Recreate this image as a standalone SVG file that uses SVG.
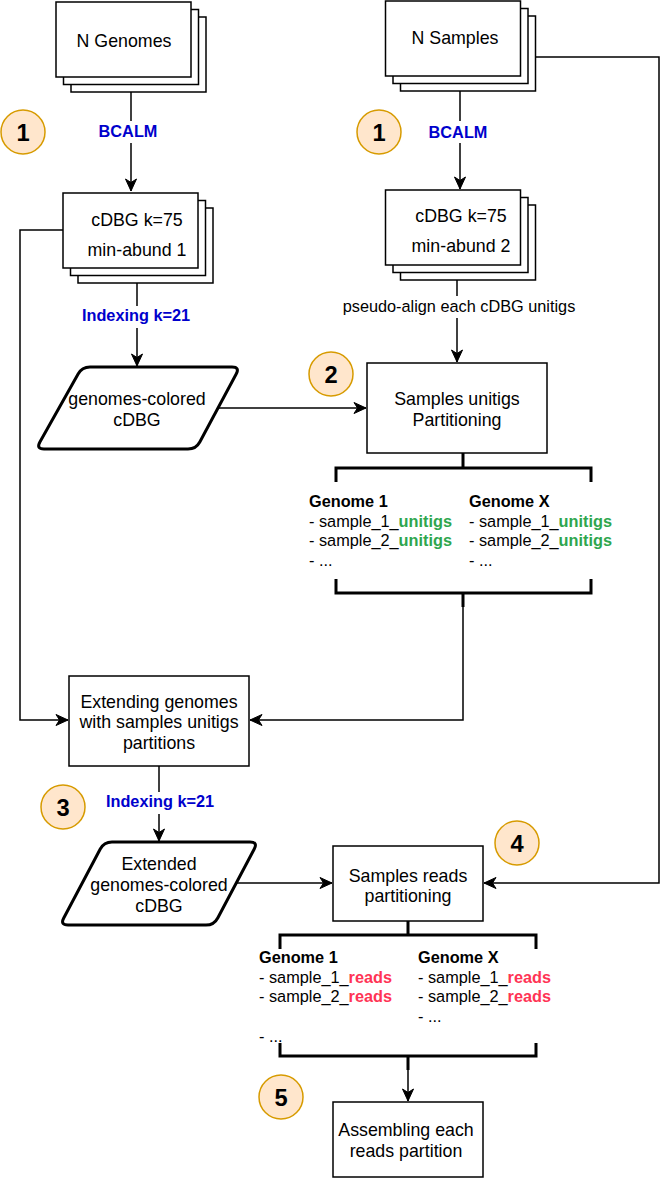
<svg xmlns="http://www.w3.org/2000/svg" width="672" height="1178" viewBox="0 0 672 1178">
<style>
.box{fill:#fff;stroke:#000;stroke-width:1.5}
.para{fill:#fff;stroke:#000;stroke-width:3;stroke-linejoin:round}
.ln{fill:none;stroke:#000;stroke-width:1.5}
.br{fill:none;stroke:#000;stroke-width:3}
.t{font-family:"Liberation Sans",Arial,sans-serif;font-size:17.8px;fill:#000;text-anchor:middle}
.lbl{font-family:"Liberation Sans",Arial,sans-serif;font-size:16.3px;font-weight:bold;fill:#0000CC;text-anchor:middle}
.pl{font-family:"Liberation Sans",Arial,sans-serif;font-size:16.3px;fill:#000;text-anchor:middle}
.lst{font-family:"Liberation Sans",Arial,sans-serif;font-size:16.3px;fill:#000}
.b{font-weight:bold}
.g{font-weight:bold;fill:#2EA64E}
.r{font-weight:bold;fill:#FF3355}
.circ{fill:#ffe6cc;stroke:#d79b00;stroke-width:1.5}
.num{font-family:"Liberation Sans",Arial,sans-serif;font-size:23.7px;font-weight:bold;fill:#000;text-anchor:middle}
.bg{fill:#fff}
</style>
<defs>
<marker id="arr" markerUnits="userSpaceOnUse" markerWidth="14" markerHeight="14" viewBox="0 0 14 14" refX="13" refY="7" orient="auto">
<path d="M1,1.5 L13,7 L1,12.5 L4.5,7 Z" fill="#000" stroke="#000" stroke-width="1"/>
</marker>
</defs>

<g id="connectors">
<path class="ln" d="M131,92 L131,191" marker-end="url(#arr)"/>
<path class="ln" d="M460,91 L460,189" marker-end="url(#arr)"/>
<path class="ln" d="M137,283 L137,366" marker-end="url(#arr)"/>
<path class="ln" d="M457,280 L457,362" marker-end="url(#arr)"/>
<path class="ln" d="M219,408 L366,408" marker-end="url(#arr)"/>
<path class="ln" d="M63,230 L20,230 L20,720 L68,720" marker-end="url(#arr)"/>
<path class="ln" d="M463,607 L463,720 L250,720" marker-end="url(#arr)"/>
<path class="ln" d="M159,766 L159,841" marker-end="url(#arr)"/>
<path class="ln" d="M237,883 L332,883" marker-end="url(#arr)"/>
<path class="ln" d="M536,57 L659,57 L659,883 L484,883" marker-end="url(#arr)"/>
<path class="ln" d="M408,1068 L408,1101" marker-end="url(#arr)"/>
<rect class="bg" x="97" y="121" width="64" height="22"/>
<text class="lbl" x="128" y="137">BCALM</text>
<rect class="bg" x="426" y="121" width="64" height="22"/>
<text class="lbl" x="458" y="138">BCALM</text>
<rect class="bg" x="79" y="306" width="114" height="22"/>
<text class="lbl" x="136" y="321">Indexing k=21</text>
<rect class="bg" x="339" y="296" width="240" height="22"/>
<text class="pl" x="459" y="312">pseudo-align each cDBG unitigs</text>
<rect class="bg" x="103" y="792" width="114" height="22"/>
<text class="lbl" x="160" y="807">Indexing k=21</text>
</g>

<g id="n-genomes">
<rect class="box" x="71" y="17" width="135" height="75"/>
<rect class="box" x="63.5" y="9.5" width="135" height="75"/>
<rect class="box" x="56" y="2" width="135" height="75"/>
<text class="t" x="124" y="47">N Genomes</text>
</g>

<g id="n-samples">
<rect class="box" x="400.5" y="16" width="135" height="75"/>
<rect class="box" x="393" y="8.5" width="135" height="75"/>
<rect class="box" x="385.5" y="1" width="135" height="75"/>
<text class="t" x="455" y="44">N Samples</text>
</g>

<g id="cdbg-genomes">
<rect class="box" x="78" y="208" width="135" height="75"/>
<rect class="box" x="70.5" y="200.5" width="135" height="75"/>
<rect class="box" x="63" y="193" width="135" height="75"/>
<text class="t" x="137" y="226">cDBG k=75</text>
<text class="t" x="137" y="256">min-abund 1</text>
</g>

<g id="cdbg-samples">
<rect class="box" x="400.5" y="205" width="135" height="75"/>
<rect class="box" x="393" y="197.5" width="135" height="75"/>
<rect class="box" x="385.5" y="190" width="135" height="75"/>
<text class="t" x="461" y="222">cDBG k=75</text>
<text class="t" x="461" y="252">min-abund 2</text>
</g>

<g id="genomes-colored">
<path class="para" d="M90,367 L232,367 Q240,367 236.2,374 L199.8,442 Q196,449 188,449 L44,449 Q36,449 39.9,442 L78.1,374 Q82,367 90,367 Z"/>
<text class="t" x="137" y="405">genomes-colored</text>
<text class="t" x="137" y="426">cDBG</text>
</g>

<g id="samples-unitigs-partitioning">
<rect class="box" x="367" y="363" width="180" height="90"/>
<text class="t" x="457" y="405">Samples unitigs</text>
<text class="t" x="457" y="426">Partitioning</text>
</g>

<g id="unitigs-partitions">
<path class="br" d="M463,453 L463,468 M336,482 L336,468 L591,468 L591,482"/>
<path class="br" d="M336,579 L336,593 L591,593 L591,579 M463,593 L463,607"/>
<text class="lst" x="309" y="507"><tspan class="b">Genome 1</tspan></text>
<text class="lst" x="309" y="527">- sample_1_<tspan class="g">unitigs</tspan></text>
<text class="lst" x="309" y="546">- sample_2_<tspan class="g">unitigs</tspan></text>
<text class="lst" x="309" y="566">- ...</text>
<text class="lst" x="469" y="507"><tspan class="b">Genome X</tspan></text>
<text class="lst" x="469" y="527">- sample_1_<tspan class="g">unitigs</tspan></text>
<text class="lst" x="469" y="546">- sample_2_<tspan class="g">unitigs</tspan></text>
<text class="lst" x="469" y="566">- ...</text>
</g>

<g id="extending-genomes">
<rect class="box" x="69" y="676" width="180" height="90"/>
<text class="t" x="159" y="708">Extending genomes</text>
<text class="t" x="159" y="728">with samples unitigs</text>
<text class="t" x="159" y="749">partitions</text>
</g>

<g id="extended-genomes-colored">
<path class="para" d="M112,842 L250,842 Q258,842 254.25,849.07 L217.75,917.93 Q214,925 206,925 L68,925 Q60,925 63.75,917.93 L100.25,849.07 Q104,842 112,842 Z"/>
<text class="t" x="159" y="870">Extended</text>
<text class="t" x="159" y="891">genomes-colored</text>
<text class="t" x="159" y="912">cDBG</text>
</g>

<g id="samples-reads-partitioning">
<rect class="box" x="333" y="846" width="150" height="75"/>
<text class="t" x="408" y="882">Samples reads</text>
<text class="t" x="408" y="902">partitioning</text>
</g>

<g id="reads-partitions">
<path class="br" d="M408,921 L408,935 M280,949 L280,935 L536,935 L536,949"/>
<path class="br" d="M280,1043 L280,1056 L536,1056 L536,1043 M408,1056 L408,1070"/>
<text class="lst" x="259" y="963"><tspan class="b">Genome 1</tspan></text>
<text class="lst" x="259" y="983">- sample_1_<tspan class="r">reads</tspan></text>
<text class="lst" x="259" y="1002">- sample_2_<tspan class="r">reads</tspan></text>
<text class="lst" x="259" y="1042">- ...</text>
<text class="lst" x="418" y="963"><tspan class="b">Genome X</tspan></text>
<text class="lst" x="418" y="983">- sample_1_<tspan class="r">reads</tspan></text>
<text class="lst" x="418" y="1002">- sample_2_<tspan class="r">reads</tspan></text>
<text class="lst" x="418" y="1022">- ...</text>
</g>

<g id="assembling">
<rect class="box" x="333" y="1102" width="150" height="75"/>
<text class="t" x="406" y="1136">Assembling each</text>
<text class="t" x="406" y="1157">reads partition</text>
</g>

<g id="step-1a"><circle class="circ" cx="23" cy="132" r="22"/><text class="num" x="23" y="140.5">1</text></g>
<g id="step-1b"><circle class="circ" cx="379" cy="132" r="22"/><text class="num" x="379" y="140.5">1</text></g>
<g id="step-2"><circle class="circ" cx="331" cy="374" r="22"/><text class="num" x="331" y="382.5">2</text></g>
<g id="step-3"><circle class="circ" cx="63" cy="807" r="22"/><text class="num" x="63" y="815.5">3</text></g>
<g id="step-4"><circle class="circ" cx="517" cy="843" r="22"/><text class="num" x="517" y="851.5">4</text></g>
<g id="step-5"><circle class="circ" cx="281" cy="1097" r="22"/><text class="num" x="281" y="1105.5">5</text></g>
</svg>
